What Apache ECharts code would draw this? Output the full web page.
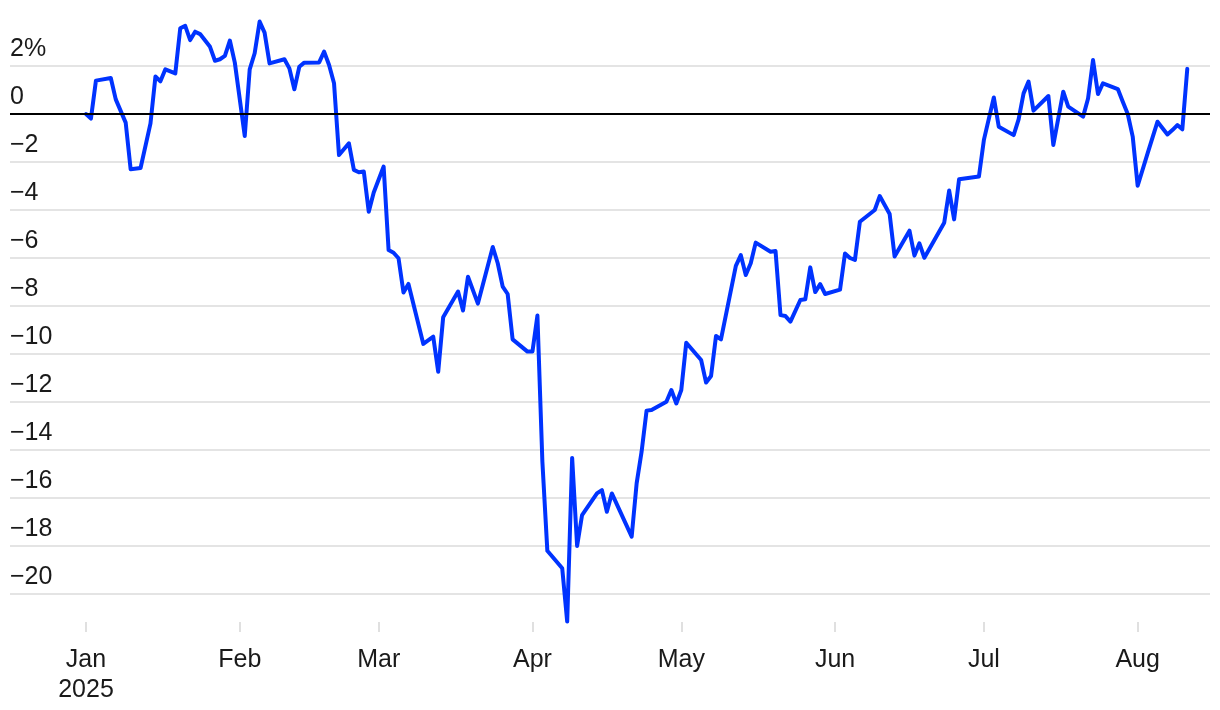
<!DOCTYPE html>
<html>
<head>
<meta charset="utf-8">
<script src="https://cdn.jsdelivr.net/npm/echarts@6/dist/echarts.min.js"></script>
<style>
html,body{margin:0;padding:0;background:#fff;}
#chart{width:1220px;height:710px;}
</style>
</head>
<body>
<div id="chart"></div>
<script>
const dates = [
'2025-01-01','2025-01-02','2025-01-03','2025-01-06','2025-01-07','2025-01-09','2025-01-10','2025-01-12','2025-01-14','2025-01-15','2025-01-16','2025-01-17','2025-01-19','2025-01-20','2025-01-21','2025-01-22','2025-01-23','2025-01-24','2025-01-26','2025-01-27','2025-01-28','2025-01-29','2025-01-30','2025-01-31',
'2025-02-02','2025-02-03','2025-02-04','2025-02-05','2025-02-06','2025-02-07','2025-02-10','2025-02-11','2025-02-12','2025-02-13','2025-02-14','2025-02-17','2025-02-18','2025-02-19','2025-02-20','2025-02-21','2025-02-23','2025-02-24','2025-02-25','2025-02-26','2025-02-27','2025-02-28',
'2025-03-02','2025-03-03','2025-03-04','2025-03-05','2025-03-06','2025-03-07','2025-03-10','2025-03-12','2025-03-13','2025-03-14','2025-03-17','2025-03-18','2025-03-19','2025-03-21','2025-03-24','2025-03-25','2025-03-26','2025-03-27','2025-03-28','2025-03-31',
'2025-04-01','2025-04-02','2025-04-03','2025-04-04','2025-04-07','2025-04-08','2025-04-09','2025-04-10','2025-04-11','2025-04-14','2025-04-15','2025-04-16','2025-04-17','2025-04-21','2025-04-22','2025-04-23','2025-04-24','2025-04-25','2025-04-28','2025-04-29','2025-04-30',
'2025-05-01','2025-05-02','2025-05-05','2025-05-06','2025-05-07','2025-05-08','2025-05-09','2025-05-12','2025-05-13','2025-05-14','2025-05-15','2025-05-16','2025-05-19','2025-05-20','2025-05-21','2025-05-22','2025-05-23','2025-05-25','2025-05-26','2025-05-27','2025-05-28','2025-05-29','2025-05-30',
'2025-06-02','2025-06-03','2025-06-04','2025-06-05','2025-06-06','2025-06-09','2025-06-10','2025-06-12','2025-06-13','2025-06-16','2025-06-17','2025-06-18','2025-06-19','2025-06-23','2025-06-24','2025-06-25','2025-06-26','2025-06-30',
'2025-07-01','2025-07-03','2025-07-04','2025-07-07','2025-07-08','2025-07-09','2025-07-10','2025-07-11','2025-07-14','2025-07-15','2025-07-17','2025-07-18','2025-07-21','2025-07-22','2025-07-23','2025-07-24','2025-07-25','2025-07-28','2025-07-29','2025-07-30','2025-07-31',
'2025-08-01','2025-08-03','2025-08-05','2025-08-07','2025-08-08','2025-08-09','2025-08-10','2025-08-11'
];
const values = [
0,-0.19,1.39,1.5,0.61,-0.36,-2.3,-2.25,-0.39,1.56,1.36,1.86,1.69,3.57,3.67,3.08,3.43,3.33,2.8,2.22,2.28,2.42,3.06,2.14,
-0.92,1.86,2.53,3.85,3.39,2.11,2.28,1.9,1.03,1.97,2.14,2.15,2.6,2.04,1.28,-1.71,-1.22,-2.33,-2.43,-2.4,-4.07,-3.27,
-2.19,-5.67,-5.78,-6.01,-7.44,-7.08,-9.58,-9.28,-10.74,-8.47,-7.4,-8.19,-6.78,-7.9,-5.54,-6.22,-7.19,-7.5,-9.39,-9.9,
-9.9,-8.4,-14.49,-18.2,-18.93,-21.15,-14.33,-18.0,-16.71,-15.81,-15.67,-16.57,-15.81,-17.61,-15.39,-14.07,-12.36,-12.33,-11.99,-11.5,-12.06,
-11.5,-9.53,-10.25,-11.19,-10.92,-9.25,-9.39,-6.33,-5.88,-6.71,-6.22,-5.36,-5.74,-5.71,-8.38,-8.42,-8.65,-7.75,-7.72,-6.39,-7.42,-7.09,-7.5,
-7.32,-5.81,-6.0,-6.08,-4.49,-4.0,-3.42,-4.17,-5.94,-4.86,-5.9,-5.39,-5.99,-4.53,-3.19,-4.39,-2.72,-2.6,
-1.08,0.69,-0.53,-0.88,-0.22,0.86,1.35,0.14,0.75,-1.29,0.93,0.31,-0.11,0.65,2.25,0.83,1.28,1.04,0.51,0.0,-0.94,
-2.99,-1.64,-0.32,-0.85,-0.67,-0.46,-0.64,1.88
];
const monthLabels = ['Jan','Feb','Mar','Apr','May','Jun','Jul','Aug','Sep','Oct','Nov','Dec'];
const yearLabel = '2025';
const yTopLabelSuffix = '%';

const DAY = 86400000;
const jan1 = new Date(2025, 0, 1).getTime();
const xMin = jan1 - 15.32 * DAY;
const xMax = xMin + 241.9 * DAY;

const chart = echarts.init(document.getElementById('chart'), null, {renderer: 'canvas'});
const FONT = '"Liberation Sans", Arial, sans-serif';
chart.setOption({
  animation: false,
  backgroundColor: '#fff',
  grid: {left: 10, right: 10, top: 18, bottom: 68, containLabel: false},
  xAxis: {
    type: 'time',
    min: xMin,
    max: xMax,
    splitNumber: 7,
    offset: -20,
    axisLine: {show: false, onZero: false},
    axisTick: {show: true, length: 10, lineStyle: {color: '#e0e0e0', width: 2}},
    splitLine: {show: false},
    axisLabel: {
      show: true,
      margin: 23,
      fontFamily: FONT,
      fontSize: 25,
      lineHeight: 30,
      color: '#1a1a1a',
      showMinLabel: false,
      showMaxLabel: false,
      hideOverlap: false,
      formatter: function (v) {
        const d = new Date(v);
        const m = d.getMonth();
        if (m === 0) return monthLabels[0] + '\n' + yearLabel;
        return monthLabels[m];
      }
    }
  },
  yAxis: {
    type: 'value',
    min: -22,
    max: 4,
    interval: 2,
    position: 'left',
    axisLine: {show: false},
    axisTick: {show: false},
    splitLine: {show: true, showMinLine: false, showMaxLine: false, lineStyle: {color: '#e4e4e4', width: 2}},
    axisLabel: {
      inside: true,
      margin: 0,
      align: 'left',
      verticalAlign: 'bottom',
      lineHeight: 24,
      padding: [0, 0, 5, 0],
      fontFamily: FONT,
      fontSize: 25,
      color: '#1a1a1a',
      showMinLabel: false,
      showMaxLabel: false,
      formatter: function (v) {
        if (v === 2) return '2' + yTopLabelSuffix;
        if (v < 0) return '\u2212' + (-v);
        return String(v);
      }
    }
  },
  series: [
    {
      type: 'line',
      data: [],
      z: 1,
      silent: true,
      markLine: {
        silent: true,
        symbol: ['none', 'none'],
        label: {show: false},
        lineStyle: {color: '#000', width: 2, type: 'solid'},
        data: [{yAxis: 0}]
      }
    },
    {
      type: 'line',
      z: 3,
      data: dates.map((d, i) => [d, values[i]]),
      symbol: 'none',
      smooth: false,
      lineStyle: {color: '#0033ff', width: 4, join: 'round', cap: 'round'},
      itemStyle: {color: '#0033ff'}
    }
  ]
});
</script>
</body>
</html>
